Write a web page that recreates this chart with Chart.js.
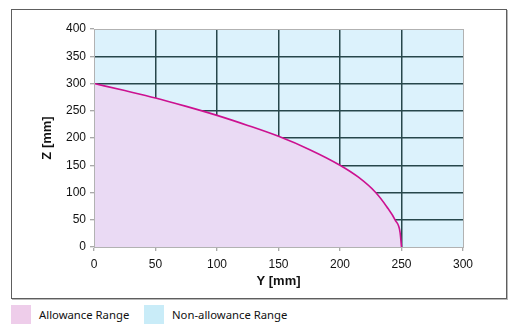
<!DOCTYPE html>
<html>
<head>
<meta charset="utf-8">
<script src="https://cdn.jsdelivr.net/npm/chart.js@4"></script>
<style>
  html, body { margin: 0; padding: 0; background: #fff; }
  body { width: 509px; height: 333px; position: relative; overflow: hidden; }
  #box {
    position: absolute; left: 11px; top: 9px;
    width: 494px; height: 288px;
    border: 1px solid #5e5e5e;
    box-shadow: 1px 1px 0 #b8b8b8;
  }
  #box canvas { display: block; }
  .legend { position: absolute; top: 305px; font: 11.3px "Noto Sans", sans-serif; color: #111; }
  .legend span.sw { position: absolute; left: 0; top: 0; width: 20px; height: 19px; }
  .legend span.tx { position: absolute; left: 28px; top: 0; line-height: 19px; white-space: nowrap; }
</style>
</head>
<body>
<div id="box"><canvas id="myChart" width="494" height="288"></canvas></div>
<div class="legend" style="left:11px"><span class="sw" style="background:#eecdea"></span><span class="tx" id="lg0"></span></div>
<div class="legend" style="left:144px"><span class="sw" style="background:#c9ecf8"></span><span class="tx" id="lg1"></span></div>
<script>
// values (Y in mm -> Z in mm)
const yValues = [0, 25, 50, 75, 100, 125, 150, 175, 200, 215, 229, 238, 245, 248.8, 250];
const zValues = [300, 287, 273.5, 258, 241.5, 223, 203, 179, 150, 128, 100, 74, 49, 27.5, 0];

const xTicks = [0, 50, 100, 150, 200, 250, 300];
const yTicks = [0, 50, 100, 150, 200, 250, 300, 350, 400];

const legendNames = ['Allowance Range', 'Non-allowance Range'];
const xTitle = 'Y [mm]';
const yTitle = 'Z [mm]';

document.getElementById('lg0').textContent = legendNames[0];
document.getElementById('lg1').textContent = legendNames[1];

const points = yValues.map((v, i) => ({ x: v, y: zValues[i] }));

// light blue plot background + thin grey frame around the plot area
const plotArea = {
    id: 'plotArea',
    beforeDraw(chart) {
        const a = chart.chartArea;
        const ctx = chart.ctx;
        ctx.save();
        ctx.fillStyle = '#dcf2fc';
        ctx.fillRect(a.left, a.top, a.right - a.left, a.bottom - a.top);
        ctx.restore();
    },
    afterDraw(chart) {
        const a = chart.chartArea;
        const ctx = chart.ctx;
        ctx.save();
        ctx.strokeStyle = '#b2b2b2';
        ctx.lineWidth = 1;
        ctx.strokeRect(Math.round(a.left) + 0.5, Math.round(a.top) + 0.5,
            Math.round(a.right - a.left), Math.round(a.bottom - a.top));
        ctx.restore();
    }
};

const gridColor = (edges) => (c) => edges.includes(c.tick.value) ? 'rgba(0,0,0,0)' : '#27474b';

const data = {
    datasets: [{
        label: legendNames[0],
        data: points,
        borderColor: '#cc1190',
        borderWidth: 1.6,
        backgroundColor: '#eadaf4',
        fill: 'origin',
        pointRadius: 0,
        cubicInterpolationMode: 'monotone'
    }]
};

const config = {
    type: 'line',
    data,
    options: {
        responsive: false,
        animation: false,
        layout: {
            padding: { top: 19, right: 43, bottom: 0, left: 0 }
        },
        plugins: {
            legend: { display: false },
            tooltip: { enabled: false }
        },
        scales: {
            x: {
                type: 'linear',
                min: 0,
                max: 300,
                afterBuildTicks: (s) => { s.ticks = xTicks.map(v => ({ value: v })); },
                afterFit: (s) => { s.height = 51; },
                grid: { color: gridColor([0, 300]), lineWidth: 1.5, tickColor: '#8c8c8c', tickLength: 4, tickWidth: 1 },
                border: { color: '#aaaaaa' },
                ticks: { color: '#111', padding: 6, font: { family: 'Liberation Sans', size: 12 } },
                title: {
                    display: true,
                    text: xTitle,
                    color: '#111',
                    padding: { top: 0, bottom: 9 },
                    font: { family: 'Liberation Sans', size: 13, weight: 'bold' }
                }
            },
            y: {
                min: 0,
                max: 400,
                afterBuildTicks: (s) => { s.ticks = yTicks.map(v => ({ value: v })); },
                afterFit: (s) => { s.width = 82; },
                grid: { color: gridColor([0, 400]), lineWidth: 1.5, tickColor: '#8c8c8c', tickLength: 4, tickWidth: 1 },
                border: { color: '#aaaaaa' },
                ticks: { color: '#111', padding: 4, font: { family: 'Liberation Sans', size: 12 } },
                title: {
                    display: true,
                    text: yTitle,
                    color: '#111',
                    padding: { top: 28, bottom: 0 },
                    font: { family: 'Liberation Sans', size: 13, weight: 'bold' }
                }
            }
        }
    },
    plugins: [plotArea]
};

var myChart = new Chart(
    document.getElementById('myChart'),
    config
);
</script>
</body>
</html>
